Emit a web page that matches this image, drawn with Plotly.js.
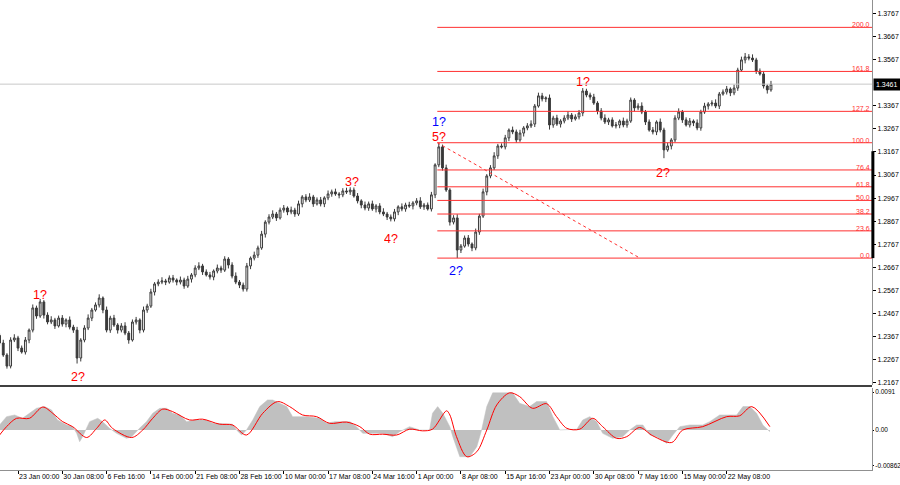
<!DOCTYPE html>
<html><head><meta charset="utf-8">
<script src="https://cdn.plot.ly/plotly-3.0.1.min.js"></script>
<style>html,body{margin:0;padding:0;background:#fff}#chart{width:900px;height:485px}</style>
</head><body><div id="chart"></div>
<script>
// ---- price bars (one bar per time step) ----
const opens = [1.2372,1.2339,1.2287,1.2239,1.2352,1.2361,1.2317,1.2300,1.2352,1.2395,
 1.2491,1.2456,1.2517,1.2460,1.2430,1.2439,1.2413,1.2447,1.2421,1.2439,
 1.2408,1.2395,1.2274,1.2352,1.2404,1.2447,1.2482,1.2504,1.2534,1.2482,
 1.2395,1.2447,1.2417,1.2395,1.2413,1.2382,1.2352,1.2430,1.2439,1.2395,
 1.2482,1.2499,1.2560,1.2595,1.2603,1.2608,1.2603,1.2621,1.2612,1.2603,
 1.2612,1.2586,1.2616,1.2634,1.2664,1.2673,1.2647,1.2634,1.2625,1.2651,
 1.2664,1.2655,1.2703,1.2677,1.2629,1.2603,1.2590,1.2573,1.2673,1.2707,
 1.2720,1.2751,1.2811,1.2863,1.2885,1.2898,1.2881,1.2915,1.2924,1.2907,
 1.2915,1.2898,1.2942,1.2972,1.2959,1.2972,1.2942,1.2959,1.2942,1.2968,
 1.2985,1.2994,1.2985,1.2981,1.2998,1.2994,1.3002,1.2976,1.2955,1.2937,
 1.2924,1.2942,1.2920,1.2933,1.2907,1.2898,1.2885,1.2877,1.2907,1.2929,
 1.2920,1.2937,1.2933,1.2946,1.2955,1.2929,1.2937,1.2920,1.2981,1.3111,
 1.3189,1.3098,1.3002,1.2863,1.2881,1.2742,1.2759,1.2794,1.2768,1.2751,
 1.2820,1.2889,1.2994,1.3063,1.3098,1.3150,1.3193,1.3189,1.3228,1.3262,
 1.3254,1.3219,1.3249,1.3271,1.3280,1.3288,1.3366,1.3410,1.3397,1.3401,
 1.3284,1.3314,1.3288,1.3301,1.3314,1.3327,1.3310,1.3319,1.3336,1.3431,
 1.3414,1.3405,1.3379,1.3345,1.3314,1.3297,1.3306,1.3280,1.3284,1.3301,
 1.3284,1.3301,1.3392,1.3358,1.3366,1.3340,1.3297,1.3262,1.3254,1.3297,
 1.3262,1.3176,1.3193,1.3219,1.3314,1.3340,1.3306,1.3284,1.3301,1.3293,
 1.3271,1.3340,1.3366,1.3375,1.3379,1.3366,1.3418,1.3427,1.3440,1.3423,
 1.3444,1.3522,1.3566,1.3579,1.3574,1.3566,1.3518,1.3505,1.3453,1.3436];
const closes = [1.2339,1.2287,1.2239,1.2352,1.2361,1.2317,1.2300,1.2352,1.2395,1.2491,
 1.2456,1.2517,1.2460,1.2430,1.2439,1.2413,1.2447,1.2421,1.2439,1.2408,
 1.2395,1.2274,1.2352,1.2404,1.2447,1.2482,1.2504,1.2534,1.2482,1.2395,
 1.2447,1.2417,1.2395,1.2413,1.2382,1.2352,1.2430,1.2439,1.2395,1.2482,
 1.2499,1.2560,1.2595,1.2603,1.2608,1.2603,1.2621,1.2612,1.2603,1.2612,
 1.2586,1.2616,1.2634,1.2664,1.2673,1.2647,1.2634,1.2625,1.2651,1.2664,
 1.2655,1.2703,1.2677,1.2629,1.2603,1.2590,1.2573,1.2673,1.2707,1.2720,
 1.2751,1.2811,1.2863,1.2885,1.2898,1.2881,1.2915,1.2924,1.2907,1.2915,
 1.2898,1.2942,1.2972,1.2959,1.2972,1.2942,1.2959,1.2942,1.2968,1.2985,
 1.2994,1.2985,1.2981,1.2998,1.2994,1.3002,1.2976,1.2955,1.2937,1.2924,
 1.2942,1.2920,1.2933,1.2907,1.2898,1.2885,1.2877,1.2907,1.2929,1.2920,
 1.2937,1.2933,1.2946,1.2955,1.2929,1.2937,1.2920,1.2981,1.3111,1.3189,
 1.3098,1.3002,1.2863,1.2881,1.2742,1.2759,1.2794,1.2768,1.2751,1.2820,
 1.2889,1.2994,1.3063,1.3098,1.3150,1.3193,1.3189,1.3228,1.3262,1.3254,
 1.3219,1.3249,1.3271,1.3280,1.3288,1.3366,1.3410,1.3397,1.3401,1.3284,
 1.3314,1.3288,1.3301,1.3314,1.3327,1.3310,1.3319,1.3336,1.3431,1.3414,
 1.3405,1.3379,1.3345,1.3314,1.3297,1.3306,1.3280,1.3284,1.3301,1.3284,
 1.3301,1.3392,1.3358,1.3366,1.3340,1.3297,1.3262,1.3254,1.3297,1.3262,
 1.3176,1.3193,1.3219,1.3314,1.3340,1.3306,1.3284,1.3301,1.3293,1.3271,
 1.3340,1.3366,1.3375,1.3379,1.3366,1.3418,1.3427,1.3440,1.3423,1.3444,
 1.3522,1.3566,1.3579,1.3574,1.3566,1.3518,1.3505,1.3453,1.3436,1.3461];
const highs = [1.2382,1.2353,1.2295,1.2364,1.2377,1.2370,1.2328,1.2365,1.2402,1.2506,
 1.2501,1.2530,1.2525,1.2472,1.2455,1.2448,1.2458,1.2460,1.2446,1.2454,
 1.2418,1.2409,1.2360,1.2416,1.2463,1.2491,1.2515,1.2550,1.2541,1.2497,
 1.2457,1.2461,1.2425,1.2425,1.2429,1.2391,1.2441,1.2452,1.2446,1.2497,
 1.2509,1.2574,1.2603,1.2615,1.2624,1.2617,1.2632,1.2634,1.2619,1.2627,
 1.2622,1.2630,1.2642,1.2676,1.2689,1.2682,1.2658,1.2647,1.2658,1.2679,
 1.2674,1.2715,1.2711,1.2689,1.2645,1.2612,1.2601,1.2686,1.2714,1.2735,
 1.2761,1.2825,1.2871,1.2897,1.2914,1.2907,1.2926,1.2937,1.2931,1.2930,
 1.2925,1.2956,1.2980,1.2984,1.2988,1.2981,1.2970,1.2972,1.2975,1.3000,
 1.3004,1.3008,1.2993,1.3010,1.3012,1.3014,1.3013,1.2989,1.2962,1.2952,
 1.2952,1.2956,1.2941,1.2945,1.2923,1.2907,1.2896,1.2920,1.2936,1.2944,
 1.2947,1.2951,1.2954,1.2967,1.2971,1.2946,1.2948,1.2994,1.3118,1.3207,
 1.3199,1.3112,1.3010,1.2893,1.2897,1.2768,1.2805,1.2807,1.2775,1.2835,
 1.2899,1.3008,1.3071,1.3110,1.3166,1.3202,1.3204,1.3241,1.3269,1.3277,
 1.3264,1.3263,1.3279,1.3292,1.3304,1.3375,1.3424,1.3423,1.3408,1.3416,
 1.3324,1.3328,1.3309,1.3326,1.3343,1.3336,1.3330,1.3349,1.3444,1.3441,
 1.3424,1.3419,1.3387,1.3357,1.3330,1.3315,1.3317,1.3297,1.3308,1.3316,
 1.3311,1.3403,1.3400,1.3378,1.3382,1.3349,1.3308,1.3275,1.3304,1.3312,
 1.3272,1.3207,1.3227,1.3326,1.3356,1.3349,1.3317,1.3314,1.3308,1.3308,
 1.3350,1.3380,1.3383,1.3391,1.3395,1.3427,1.3438,1.3453,1.3447,1.3459,
 1.3532,1.3580,1.3596,1.3591,1.3590,1.3575,1.3529,1.3518,1.3460,1.3475];
const lows = [1.2327,1.2279,1.2228,1.2229,1.2343,1.2304,1.2293,1.2289,1.2338,1.2385,
 1.2444,1.2448,1.2445,1.2420,1.2421,1.2400,1.2406,1.2410,1.2407,1.2398,
 1.2383,1.2250,1.2259,1.2342,1.2395,1.2434,1.2475,1.2493,1.2468,1.2385,
 1.2383,1.2409,1.2380,1.2385,1.2373,1.2336,1.2345,1.2419,1.2381,1.2385,
 1.2470,1.2491,1.2545,1.2585,1.2594,1.2590,1.2596,1.2601,1.2589,1.2593,
 1.2574,1.2578,1.2601,1.2624,1.2655,1.2634,1.2627,1.2614,1.2611,1.2641,
 1.2643,1.2647,1.2662,1.2619,1.2594,1.2577,1.2562,1.2562,1.2659,1.2697,
 1.2708,1.2743,1.2796,1.2853,1.2876,1.2868,1.2874,1.2904,1.2893,1.2897,
 1.2886,1.2890,1.2927,1.2949,1.2950,1.2929,1.2935,1.2931,1.2928,1.2958,
 1.2973,1.2977,1.2966,1.2971,1.2985,1.2981,1.2969,1.2944,1.2923,1.2914,
 1.2912,1.2912,1.2905,1.2897,1.2889,1.2872,1.2866,1.2866,1.2893,1.2910,
 1.2908,1.2925,1.2918,1.2936,1.2920,1.2916,1.2913,1.2909,1.2967,1.3101,
 1.3086,1.2994,1.2848,1.2853,1.2707,1.2729,1.2752,1.2757,1.2737,1.2741,
 1.2808,1.2881,1.2979,1.3053,1.3089,1.3137,1.3182,1.3178,1.3214,1.3244,
 1.3207,1.3211,1.3234,1.3261,1.3271,1.3275,1.3359,1.3386,1.3383,1.3264,
 1.3272,1.3280,1.3273,1.3291,1.3305,1.3297,1.3303,1.3308,1.3322,1.3404,
 1.3393,1.3371,1.3330,1.3304,1.3288,1.3284,1.3273,1.3269,1.3270,1.3274,
 1.3272,1.3293,1.3343,1.3348,1.3331,1.3284,1.3255,1.3243,1.3240,1.3252,
 1.3140,1.3168,1.3178,1.3209,1.3305,1.3293,1.3277,1.3273,1.3279,1.3261,
 1.3259,1.3332,1.3351,1.3365,1.3357,1.3353,1.3411,1.3416,1.3409,1.3413,
 1.3432,1.3514,1.3551,1.3564,1.3557,1.3505,1.3498,1.3442,1.3420,1.3428];

// ---- time axis ----
const timeTickIdx = [5,17,29,41,53,65,77,89,101,113,125,137,149,161,173,185,197];
const timeTickLabels = ["23 Jan 00:00","30 Jan 08:00","6 Feb 16:00","14 Feb 00:00","21 Feb 08:00","28 Feb 16:00","10 Mar 00:00","17 Mar 08:00","24 Mar 16:00","1 Apr 00:00","8 Apr 08:00","15 Apr 16:00","23 Apr 00:00","30 Apr 08:00","7 May 16:00","15 May 00:00","22 May 08:00"];

// ---- price axis ----
const priceTicks = [1.2167,1.2267,1.2367,1.2467,1.2567,1.2667,1.2767,1.2867,1.2967,1.3067,1.3167,1.3267,1.3367,1.3567,1.3667,1.3767];
const priceTickLabels = ["1.2167","1.2267","1.2367","1.2467","1.2567","1.2667","1.2767","1.2867","1.2967","1.3067","1.3167","1.3267","1.3367","1.3567","1.3667","1.3767"];
const currentPrice = 1.3461;
const currentPriceLabel = "1.3461";
const scaleMarkTop = 1.3170;

// ---- Fibonacci tool ----
const fibLevels = [0, 23.6, 38.2, 50, 61.8, 76.4, 100, 127.2, 161.8, 200];
const fibLabels = ["0.0","23.6","38.2","50.0","61.8","76.4","100.0","127.2","161.8","200.0"];
const fib0Price = 1.2707;
const fib100Price = 1.3207;
const fibStartIdx = 118.6;
const fibEndIdx = 173.5;

// ---- wave marks ----
const waveTexts = ["1?","2?","3?","4?","5?","1?","2?","1?","2?"];
const waveBars  = [11, 21, 95, 106, 119, 119, 124, 158, 180];
const waveAtHigh = [true,false,true,false,true,true,false,true,false];
const waveColors = ["red","red","red","red","red","blue","blue","red","red"];

// ---- oscillator ----
const histIdx = [0.0,1.9,4.1,6.2,10.0,12.2,14.1,15.7,18.2,19.8,20.9,21.7,22.5,24.4,26.6,27.9,29.8,31.7,34.4,35.8,37.9,39.8,41.5,43.4,45.3,46.9,48.8,50.7,52.8,56.1,57.7,61.0,63.1,64.2,65.6,66.9,68.6,70.5,72.6,74.0,75.9,77.8,79.4,83.2,86.7,88.6,90.8,94.9,96.7,98.4,100.3,103.8,106.5,108.4,111.1,113.8,116.5,117.3,118.7,120.1,122.0,122.8,124.7,127.4,129.3,130.6,132.0,133.6,139.0,140.9,143.6,145.5,148.2,149.9,151.8,156.4,158.0,159.9,161.8,163.4,166.1,168.8,170.7,172.6,174.3,176.2,178.0,180.8,182.4,184.3,187.0,190.5,192.4,195.1,197.0,199.7,201.4,203.3,205.1,206.8,208.7];
const histVals = [0.0012,0.0032,0.0036,0.0028,0.0052,0.0056,0.0048,0.0024,0.0012,0.0008,-0.0008,-0.0028,-0.0016,0.0020,0.0028,0.0020,0.0004,-0.0008,-0.0020,-0.0016,0.0004,0.0020,0.0040,0.0052,0.0052,0.0040,0.0036,0.0020,0.0024,0.0024,0.0016,0.0014,0.0014,0.0000,-0.0012,0.0000,0.0024,0.0056,0.0072,0.0072,0.0064,0.0056,0.0032,0.0032,0.0028,0.0016,0.0020,0.0020,0.0008,-0.0008,-0.0008,-0.0008,-0.0016,-0.0004,0.0008,0.0000,0.0000,0.0040,0.0056,0.0040,0.0008,-0.0016,-0.0064,-0.0064,-0.0040,0.0000,0.0056,0.0089,0.0089,0.0064,0.0056,0.0068,0.0068,0.0032,0.0000,0.0002,0.0024,0.0032,0.0020,-0.0008,-0.0020,-0.0016,0.0000,0.0012,0.0012,-0.0012,-0.0016,-0.0032,-0.0012,0.0008,0.0012,0.0012,0.0020,0.0036,0.0036,0.0036,0.0056,0.0056,0.0040,0.0012,-0.0004];
const sigIdx = [0.0,1.9,4.6,8.1,11.7,14.4,17.1,19.8,23.6,26.3,28.5,30.6,35.8,38.8,41.5,44.2,46.9,51.5,55.0,59.6,63.1,66.9,71.3,75.3,78.6,82.1,85.9,89.4,94.0,97.6,100.3,103.8,107.6,111.1,114.6,117.3,121.1,122.0,123.8,126.6,129.3,132.0,134.7,138.2,140.9,144.4,148.2,150.9,153.7,157.2,160.7,163.4,167.2,169.9,173.4,177.0,182.1,185.1,190.5,197.0,200.5,203.8,208.7];
const sigVals = [-0.0012,0.0008,0.0028,0.0028,0.0055,0.0040,0.0020,0.0008,-0.0018,0.0004,0.0024,0.0004,-0.0018,0.0000,0.0028,0.0050,0.0044,0.0024,0.0026,0.0014,0.0012,-0.0012,0.0040,0.0068,0.0056,0.0036,0.0032,0.0016,0.0019,0.0008,-0.0010,-0.0010,-0.0012,0.0002,-0.0002,0.0002,0.0046,0.0036,-0.0016,-0.0064,-0.0052,0.0000,0.0060,0.0089,0.0080,0.0052,0.0063,0.0032,0.0004,0.0002,0.0028,0.0008,-0.0020,-0.0016,0.0006,-0.0014,-0.0030,0.0000,0.0008,0.0032,0.0034,0.0056,0.0008];
const oscTicks = [0.0091, 0, -0.00862];
const oscTickLabels = ["0.0091","0.00","-0.00862"];

// ---- build ----
const barIdx = opens.map((_, i) => i);
const xRange = [0.12, 236.37];
const FONT = 'Liberation Sans, Arial, sans-serif';

const traces = [];
traces.push({
  type:'scatter', mode:'lines', xaxis:'x', yaxis:'y2',
  x: histIdx, y: histVals, fill:'tozeroy', fillcolor:'#c0c0c0',
  line:{color:'#c0c0c0', width:0.5}, hoverinfo:'none'
});
traces.push({
  type:'scatter', mode:'lines', xaxis:'x', yaxis:'y2',
  x: sigIdx, y: sigVals, line:{color:'#ff0000', width:1, shape:'spline', smoothing:0.9}, hoverinfo:'none'
});
traces.push({
  type:'candlestick', xaxis:'x', yaxis:'y',
  x: barIdx, open: opens, high: highs, low: lows, close: closes,
  increasing:{line:{color:'#3a3a3a', width:1}, fillcolor:'#ffffff'},
  decreasing:{line:{color:'#3a3a3a', width:1}, fillcolor:'#3a3a3a'},
  whiskerwidth:0, hoverinfo:'none'
});
// fib trend line
traces.push({
  type:'scatter', mode:'lines', xaxis:'x', yaxis:'y',
  x:[fibStartIdx, fibEndIdx], y:[fib100Price, fib0Price],
  line:{color:'#ff3030', width:1, dash:'dot'}, hoverinfo:'none'
});

const shapes = [];
shapes.push({type:'line', xref:'paper', yref:'y', x0:0, x1:1, y0:currentPrice, y1:currentPrice, line:{color:'#c8c8c8', width:1}});
fibLevels.forEach(lv => {
  const p = fib0Price + (fib100Price - fib0Price) * lv / 100;
  shapes.push({type:'line', xref:'x', yref:'y', x0:fibStartIdx, x1:xRange[1], y0:p, y1:p, line:{color:'#ff3030', width:1}});
});
const sepY = (470 - 386) / 470;
shapes.push({type:'line', xref:'paper', yref:'paper', x0:0, x1:1, y0:sepY, y1:sepY, line:{color:'#404040', width:2}});
shapes.push({type:'line', xref:'paper', yref:'y', x0:1.001, x1:1.001, y0:fib0Price, y1:scaleMarkTop, line:{color:'#000', width:3}});

const annotations = [];
const waveShift = [3.5,-13,5.6,-17.6,6,21,-12.6,6,-15];
const waveXShift = [0,1,2,0,0,0,-1,0,-1];
waveTexts.forEach((t, k) => {
  const b = waveBars[k];
  annotations.push({
    x: b, y: waveAtHigh[k] ? highs[b] : lows[b], xref:'x', yref:'y',
    text: t, showarrow:false, xanchor:'center', yanchor:'middle',
    yshift: waveShift[k], xshift: waveXShift[k], height:12, borderpad:0,
    font:{family:FONT, size:12.5, color: waveColors[k]}
  });
});
fibLevels.forEach((lv, k) => {
  const p = fib0Price + (fib100Price - fib0Price) * lv / 100;
  annotations.push({
    x:1, y:p, xref:'paper', yref:'y', text: fibLabels[k], showarrow:false,
    xanchor:'right', yanchor:'bottom', yshift:-2, xshift:-1, borderpad:0,
    font:{family:FONT, size:7, color:'#ff3030'}
  });
});
annotations.push({
  x:1, y:currentPrice, xref:'paper', yref:'y', text: currentPriceLabel, showarrow:false,
  xanchor:'left', yanchor:'middle', xshift:1, bgcolor:'#000', borderpad:2,
  font:{family:FONT, size:7, color:'#fff'}
});

const layout = {
  width:900, height:485,
  margin:{l:0, r:28, t:0, b:15, pad:0},
  paper_bgcolor:'#fff', plot_bgcolor:'#fff',
  showlegend:false, hovermode:false,
  font:{family:FONT, size:7, color:'#000'},
  xaxis:{
    range:xRange, anchor:'y2', showgrid:false, zeroline:false,
    showline:true, linecolor:'#909090', linewidth:1,
    ticks:'outside', ticklen:3, tickcolor:'#000', tickwidth:1,
    tickvals: timeTickIdx, ticktext: timeTickLabels,
    tickangle:0, autotickangles:[0],
    ticklabelposition:'outside right',
    tickfont:{family:FONT, size:7, color:'#000'},
    rangeslider:{visible:false}, fixedrange:true
  },
  yaxis:{
    domain:[(470-385)/470, 1], side:'right', anchor:'x',
    range:[1.2157, 1.38256], showgrid:false, zeroline:false,
    showline:true, linecolor:'#909090', linewidth:1,
    ticks:'outside', ticklen:3, tickcolor:'#000',
    tickvals: priceTicks, ticktext: priceTickLabels,
    tickfont:{family:FONT, size:7, color:'#000'}, fixedrange:true
  },
  yaxis2:{
    domain:[0, (470-388)/470], side:'right', anchor:'x',
    range:[-0.00958, 0.01006], showgrid:false, zeroline:false,
    showline:true, linecolor:'#909090', linewidth:1,
    ticks:'outside', ticklen:1, tickcolor:'#000',
    tickvals: oscTicks, ticktext: oscTickLabels,
    tickfont:{family:FONT, size:6.5, color:'#000'}, fixedrange:true
  },
  shapes: shapes,
  annotations: annotations
};

Plotly.newPlot('chart', traces, layout, {staticPlot:true, displayModeBar:false});
</script>
</body></html>
